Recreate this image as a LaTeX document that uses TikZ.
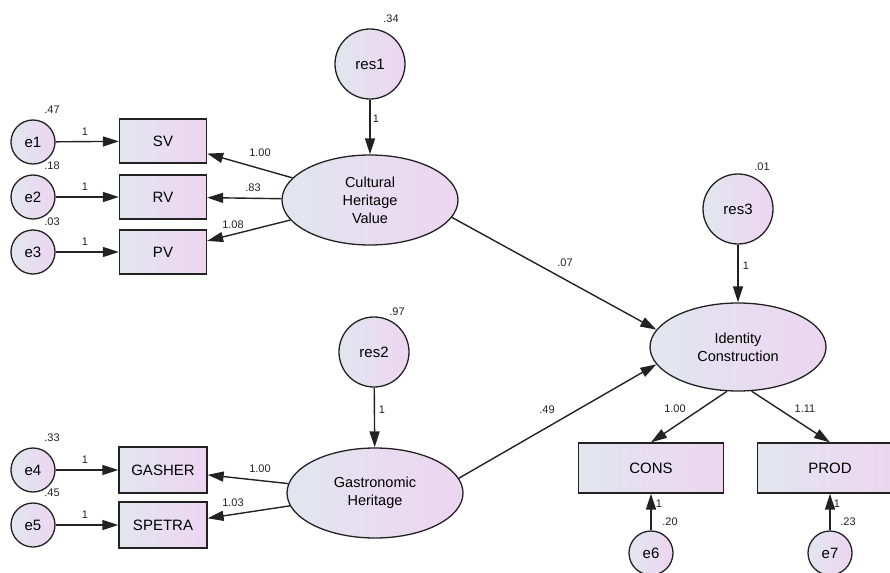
\documentclass[tikz,border=0pt]{standalone}
\usepackage{fontspec}
\setmainfont{Liberation Sans}
\usetikzlibrary{arrows.meta,shapes.geometric}

\definecolor{shadel}{HTML}{E1E6EE}
\definecolor{shader}{HTML}{EDD5F1}
\definecolor{edgeink}{HTML}{222222}

\begin{document}
\begin{tikzpicture}[x=1pt,y=-1pt,
    every node/.style={inner sep=0pt},
    obs/.style={draw=edgeink, line width=1.3pt, rectangle, minimum width=87pt, minimum height=44pt,
        left color=shadel, right color=shader, font=\fontsize{15}{18}\selectfont},
    lat/.style={draw=edgeink, line width=1.3pt, ellipse, minimum width=176pt, minimum height=90pt,
        left color=shadel, right color=shader, align=center, font=\fontsize{14.5}{18}\selectfont},
    err/.style={draw=edgeink, line width=1.3pt, circle, minimum size=44pt,
        left color=shadel, right color=shader, font=\fontsize{15}{18}\selectfont},
    res/.style={err, minimum size=70pt},
    coef/.style={font=\fontsize{11}{13}\selectfont, text=edgeink},
    link/.style={draw=edgeink, line width=1.4pt, -{Triangle[length=16pt,width=10pt]}}]
    \useasboundingbox (0,0) rectangle (890,572);

    % latent variables
    \node[lat] (chv) at (370,200) {Cultural\\Heritage\\Value};
    \node[lat] (gh) at (375,493) {Gastronomic\\Heritage};
    \node[lat, minimum height=88pt] (ic) at (738,347) {Identity\\Construction};

    % disturbances
    \node[res] (res1) at (370,64) {res1};
    \node[res] (res2) at (374,352) {res2};
    \node[res] (res3) at (738,209) {res3};

    % indicators
    \node[obs] (sv) at (163,141) {SV};
    \node[obs] (rv) at (163,197) {RV};
    \node[obs] (pv) at (163,252) {PV};
    \node[obs, minimum width=88pt, minimum height=46pt] (gasher) at (163,470) {GASHER};
    \node[obs, minimum width=88pt, minimum height=46pt] (spetra) at (163,525) {SPETRA};
    \node[obs, minimum width=145pt, minimum height=50pt] (cons) at (651,468) {CONS};
    \node[obs, minimum width=145pt, minimum height=50pt] (prod) at (830,468) {PROD};

    % measurement errors
    \node[err] (e1) at (33,142) {e1};
    \node[err] (e2) at (33,197) {e2};
    \node[err] (e3) at (33,252) {e3};
    \node[err] (e4) at (33,470) {e4};
    \node[err] (e5) at (33,525) {e5};
    \node[err] (e6) at (651,553) {e6};
    \node[err] (e7) at (830,553) {e7};

    % error paths
    \draw[link] (e1) -- (sv);
    \draw[link] (e2) -- (rv);
    \draw[link] (e3) -- (pv);
    \draw[link] (e4) -- (gasher);
    \draw[link] (e5) -- (spetra);
    \draw[link] (e6) -- (cons);
    \draw[link] (e7) -- (prod);
    \draw[link] (res1) -- (chv);
    \draw[link] (res2) -- (gh);
    \draw[link] (res3) -- (ic);

    % loadings
    \draw[link] (chv) -- (sv);
    \draw[link] (chv) -- (rv);
    \draw[link] (chv) -- (pv);
    \draw[link] (gh) -- (gasher);
    \draw[link] (gh) -- (spetra);
    \draw[link] (ic.256) -- (cons.north);
    \draw[link] (ic.287) -- (prod.north);

    % structural paths
    \draw[link] (chv.-12) -- (ic.168);
    \draw[link] (gh.10) -- (ic.192);

    % fixed weights
    \node[coef] (w1) at (85,132) {1};
    \node[coef] (w2) at (85,187) {1};
    \node[coef] (w3) at (85,242) {1};
    \node[coef] (w4) at (85,460) {1};
    \node[coef] (w5) at (85,515) {1};
    \node[coef] (w6) at (659,504) {1};
    \node[coef] (w7) at (837,504) {1};
    \node[coef] (wr1) at (376,119) {1};
    \node[coef] (wr2) at (382,410) {1};
    \node[coef] (wr3) at (746,266) {1};

    % variances
    \node[coef] (v1) at (52,110) {.47};
    \node[coef] (v2) at (52,166) {.18};
    \node[coef] (v3) at (52,222) {.03};
    \node[coef] (v4) at (52,438) {.33};
    \node[coef] (v5) at (52,493) {.45};
    \node[coef] (v6) at (670,522) {.20};
    \node[coef] (v7) at (848,522) {.23};
    \node[coef] (vr1) at (391,19) {.34};
    \node[coef] (vr2) at (397,312) {.97};
    \node[coef] (vr3) at (762,167) {.01};

    % estimates
    \node[coef] (b1) at (260,153) {1.00};
    \node[coef] (b2) at (253,188) {.83};
    \node[coef] (b3) at (233,225) {1.08};
    \node[coef] (b4) at (260,469) {1.00};
    \node[coef] (b5) at (233,503) {1.03};
    \node[coef] (b6) at (675,409) {1.00};
    \node[coef] (b7) at (805,409) {1.11};
    \node[coef] (b8) at (565,263) {.07};
    \node[coef] (b9) at (547,410) {.49};
\end{tikzpicture}
\end{document}
